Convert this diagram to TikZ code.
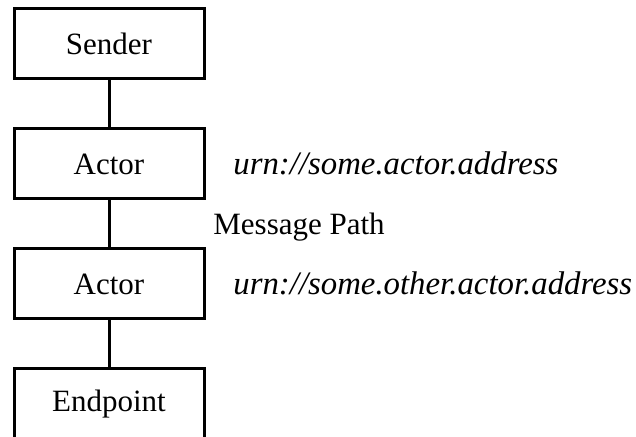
\documentclass[tikz,border=0pt]{standalone}
\usepackage{fontspec}
\setmainfont{Liberation Serif}
\usetikzlibrary{positioning}

\newcommand{\diagfont}{\fontsize{15.5}{18}\selectfont}

\tikzset{
    hop/.style={draw, line width=1.5pt, minimum width=95pt, minimum height=35pt, inner sep=0pt},
    addr/.style={anchor=west, inner sep=0pt, font=\fontsize{16.4}{19}\selectfont\itshape},
    wire/.style={line width=1.5pt}
}

\begin{document}
\begin{tikzpicture}[x=0.5pt, y=-0.5pt, font=\diagfont]
    \useasboundingbox (0, 0) rectangle (636, 437);

    % Chain of hops, one every 60pt
    \node[hop] (sender) at (109, 44) {Sender};
    \node[hop, below=23.5pt of sender] (actorA) {Actor};
    \node[hop, below=23.5pt of actorA] (actorB) {Actor};
    \node[hop, below=23.5pt of actorB] (endpoint) {Endpoint};

    % Links
    \draw[wire] (sender) -- (actorA);
    \draw[wire] (actorA) -- (actorB);
    \draw[wire] (actorB) -- (endpoint);

    % Addresses and path label
    \node[addr] (addrA) at (233, 163) {urn://some.actor.address};
    \node[addr] (addrB) at (233, 283) {urn://some.other.actor.address};
    \node[anchor=west, inner sep=0pt] (path) at (213, 227) {Message Path};
\end{tikzpicture}
\end{document}
